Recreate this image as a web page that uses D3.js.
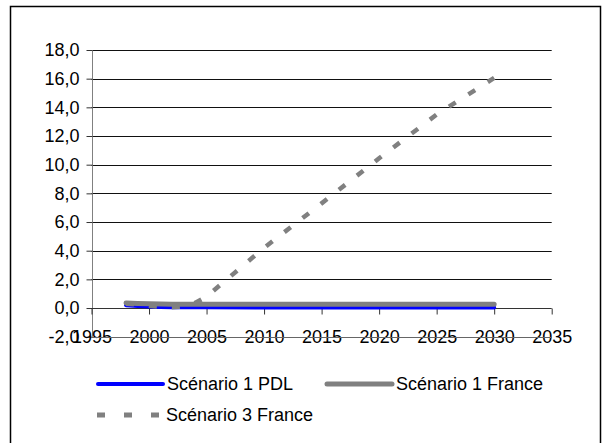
<!DOCTYPE html>
<html>
<head>
<meta charset="utf-8">
<script src="https://cdn.jsdelivr.net/npm/d3@7"></script>
<style>
  html, body { margin: 0; padding: 0; background: #fff; }
  svg { display: block; }
  text { font-family: "Liberation Sans", Arial, Helvetica, sans-serif; fill: #000; }
</style>
</head>
<body>
<svg id="chart" width="602" height="443"></svg>
<script>
// ---- data ----
const years      = [1998, 1999, 2000, 2001, 2002, 2003, 2004, 2005, 2010, 2015, 2020, 2025, 2030];
const s1PDL      = [0.20, 0.15, 0.10, 0.08, 0.06, 0.05, 0.05, 0.05, 0.04, 0.04, 0.04, 0.04, 0.04];
const s1France   = [0.35, 0.32, 0.30, 0.28, 0.27, 0.27, 0.27, 0.27, 0.27, 0.27, 0.27, 0.27, 0.27];
const s3France   = [0.30, 0.25, 0.15, 0.08, 0.05, 0.10, 0.35, 0.80, 4.20, 7.30, 10.45, 13.50, 16.05];
const seriesNames = ["Scénario 1 PDL", "Scénario 1 France", "Scénario 3 France"];
const xTicks = [1995, 2000, 2005, 2010, 2015, 2020, 2025, 2030, 2035];
const yTicks = [-2, 0, 2, 4, 6, 8, 10, 12, 14, 16, 18];

const svg = d3.select("#chart");
const fontSize = 18;

// frame
svg.append("rect")
  .attr("x", 10.5).attr("y", 6.5)
  .attr("width", 590).attr("height", 445)
  .attr("fill", "none").attr("stroke", "#000").attr("stroke-width", 1.5);

const x = d3.scaleLinear().domain([1995, 2035]).range([91.5, 551.7]);
const y = d3.scaleLinear().domain([-2, 18]).range([336.7, 50]);
const fmt = v => d3.format(".1f")(Math.abs(v)).replace(".", ",").replace(/^/, v < 0 ? "-" : "");

// horizontal gridlines (excluding -2 which is drawn later over labels)
svg.append("g").selectAll("line")
  .data(yTicks.filter(v => v > 0))
  .join("line")
  .attr("x1", x(1995)).attr("x2", x(2035))
  .attr("y1", d => Math.round(y(d)) + 0.5).attr("y2", d => Math.round(y(d)) + 0.5)
  .attr("stroke", "#111").attr("stroke-width", 1);

// y axis
const yAxis = d3.axisLeft(y).tickValues(yTicks).tickSize(6).tickPadding(7).tickFormat(fmt);
const gy = svg.append("g").attr("transform", `translate(${Math.round(x(1995)) + 0.5},0)`).call(yAxis);
gy.select(".domain").attr("stroke", "#808080").attr("d", `M0,${y(18)}V${y(-2)}`);
gy.selectAll(".tick line").attr("stroke", "#333");
gy.selectAll(".tick text").style("font-size", fontSize + "px")
  .attr("font-family", "Liberation Sans, Arial, sans-serif").attr("fill", "#000");

// x axis at value 0, labels at bottom (-2)
const xAxis = d3.axisBottom(x).tickValues(xTicks).tickSize(6).tickFormat(d3.format("d"));
const gx = svg.append("g").attr("transform", `translate(0,${Math.round(y(0)) + 0.5})`).call(xAxis);
gx.select(".domain").attr("stroke", "#333").attr("d", `M${x(1995)},0H${x(2035)}`);
gx.selectAll(".tick line").attr("stroke", "#333");
gx.selectAll(".tick text")
  .style("font-size", fontSize + "px")
  .attr("font-family", "Liberation Sans, Arial, sans-serif")
  .attr("fill", "#000")
  .attr("dy", null)
  .attr("dominant-baseline", "central")
  .attr("y", y(-2) - y(0));

// -2 line over the labels
svg.append("line")
  .attr("x1", x(1995)).attr("x2", x(2035))
  .attr("y1", Math.round(y(-2)) + 0.5).attr("y2", Math.round(y(-2)) + 0.5)
  .attr("stroke", "#666").attr("stroke-width", 1);

// lines
const line = vals => d3.line().x((d, i) => x(years[i])).y(d => y(d))(vals);

svg.append("path").attr("d", line(s1PDL))
  .attr("fill", "none").attr("stroke", "#0000ff").attr("stroke-width", 4)
  .attr("stroke-linejoin", "round").attr("stroke-linecap", "round");
svg.append("path").attr("d", line(s1France))
  .attr("fill", "none").attr("stroke", "#808080").attr("stroke-width", 5)
  .attr("stroke-linejoin", "round").attr("stroke-linecap", "round");
svg.append("path").attr("d", line(s3France))
  .attr("fill", "none").attr("stroke", "#808080").attr("stroke-width", 4.5)
  .attr("stroke-dasharray", "8,15");

// legend
const legend = [
  {name: seriesNames[0], color: "#0000ff", w: 4, dash: null, lx: 98, ly: 384},
  {name: seriesNames[1], color: "#808080", w: 5, dash: null, lx: 327, ly: 384},
  {name: seriesNames[2], color: "#808080", w: 5, dash: "8,19", lx: 97, ly: 415}
];
const lg = svg.append("g").selectAll("g").data(legend).join("g");
lg.append("line")
  .attr("x1", d => d.lx).attr("x2", d => d.lx + 65)
  .attr("y1", d => d.ly).attr("y2", d => d.ly)
  .attr("stroke", d => d.color).attr("stroke-width", d => d.w)
  .attr("stroke-dasharray", d => d.dash)
  .attr("stroke-linecap", d => d.dash ? "butt" : "round");
lg.append("text")
  .attr("x", d => d.lx + 69).attr("y", d => d.ly)
  .attr("dominant-baseline", "central")
  .style("font-size", fontSize + "px")
  .text(d => d.name);
</script>
</body>
</html>
